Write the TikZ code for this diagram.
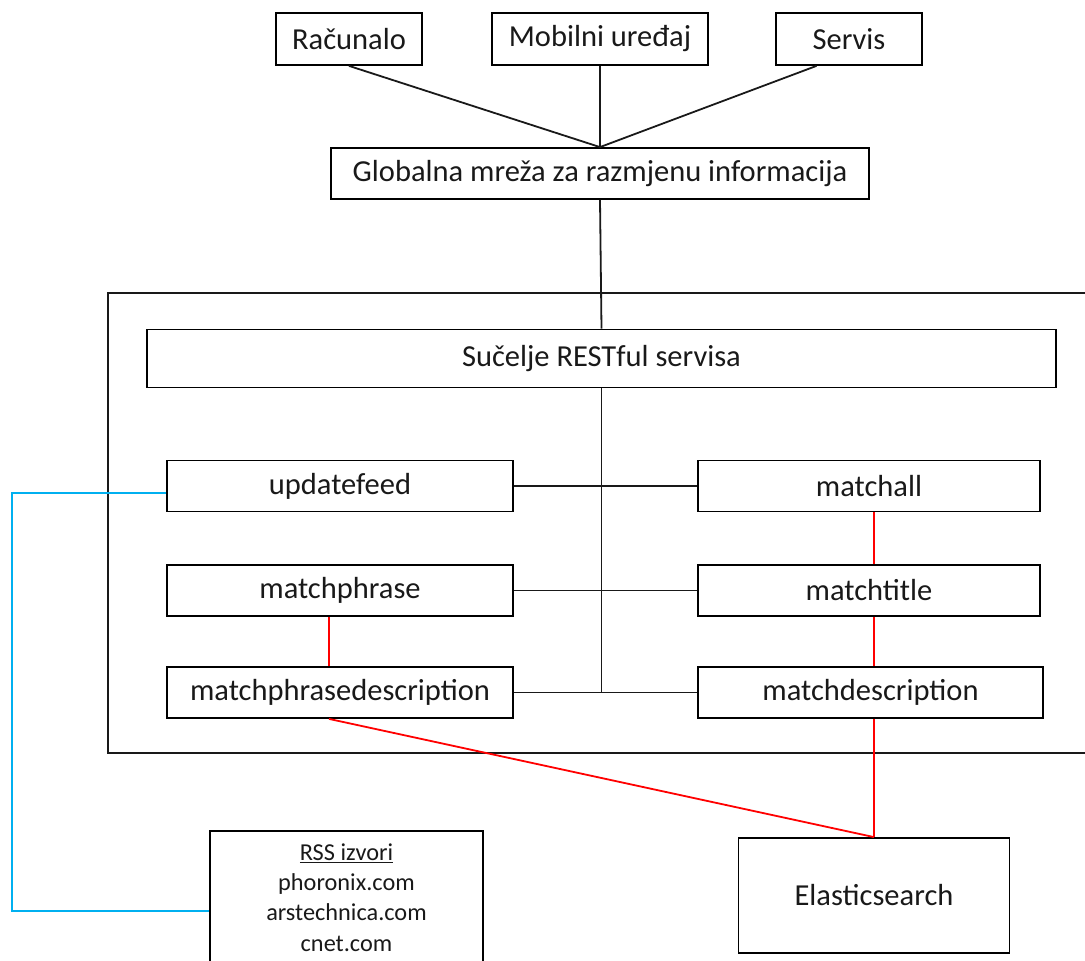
\documentclass[tikz,border=0pt]{standalone}
\usepackage{fontspec}
\setmainfont{Carlito}
\usetikzlibrary{calc,positioning}
\definecolor{feedblue}{RGB}{0,176,240}
\tikzset{
  box/.style={draw, line width=1.8pt, inner sep=0pt, text=black!90,
    font=\fontsize{30.5}{30}\selectfont},
  ln/.style={line width=1.8pt, black!90},
  redln/.style={line width=1.8pt, red},
  blueln/.style={line width=1.8pt, feedblue}
}
\begin{document}
\begin{tikzpicture}[x=1pt,y=-1pt]
  \useasboundingbox (0,0) rectangle (1085,961);
  % top
  \node[box, minimum width=146, minimum height=52] (rac) at (349,39) {Računalo};
  \node[box, minimum width=216, minimum height=52] (mob) at (600,39) {Mobilni uređaj};
  \node[box, minimum width=146, minimum height=52] (serv) at (849,39) {Servis};
  \node[box, minimum width=538, minimum height=51] (glob) at (600,173.5) {Globalna mreža za razmjenu informacija};
  \draw[ln] (rac.south) -- (glob.north);
  \draw[ln] (mob.south) -- (glob.north);
  \draw[ln] ($(serv.south west)!0.28!(serv.south east)$) -- (glob.north);
  % servis
  \draw[ln] (108,293) rectangle (1100,753);
  \node[box, minimum width=909, minimum height=58] (rest) at (601.5,358.5) {Sučelje RESTful servisa};
  \draw[ln] (glob.south) -- (rest.north);
  \node[box, minimum width=346, minimum height=51] (upd) at (340,486) {updatefeed};
  \node[box, minimum width=346, minimum height=51] (mph) at (340,590.5) {matchphrase};
  \node[box, minimum width=346, minimum height=51] (mphd) at (340,692.5) {matchphrasedescription};
  \node[box, minimum width=342, minimum height=51] (mall) at (869,486) {matchall};
  \node[box, minimum width=342, minimum height=51] (mtit) at (869,590.5) {matchtitle};
  \node[box, minimum width=345, minimum height=51] (mdesc) at (870.5,692.5) {matchdescription};
  \coordinate (jn) at (rest.south |- mphd.east);
  \draw[ln] (rest.south) -- (jn);
  \draw[ln] (upd.east) -- (mall.west);
  \draw[ln] (mph.east) -- (mtit.west);
  \draw[ln] (mphd.east) -- (mdesc.west);
  % baza i izvori
  \node[box, minimum width=271, minimum height=115] (es) at (874,895.5) {Elasticsearch};
  \node[box, minimum width=273, minimum height=133, align=center,
    font=\fontsize{24.3}{30.3}\selectfont] (rss) at (346.5,897.5)
    {\underline{RSS izvori}\\phoronix.com\\arstechnica.com\\cnet.com};
  \draw[redln] (mall.south -| es.north) -- (mtit.north -| es.north);
  \draw[redln] (mtit.south -| es.north) -- (mdesc.north -| es.north);
  \draw[redln] (mdesc.south -| es.north) -- (es.north);
  \draw[redln] (mph.south -| 329,0) -- (mphd.north -| 329,0);
  \draw[redln] (mphd.south -| 329,0) -- (es.north);
  \coordinate (bl) at (12,911);
  \draw[blueln] ([yshift=-7pt]upd.west) -| (bl) -- (bl -| rss.west);
\end{tikzpicture}
\end{document}
